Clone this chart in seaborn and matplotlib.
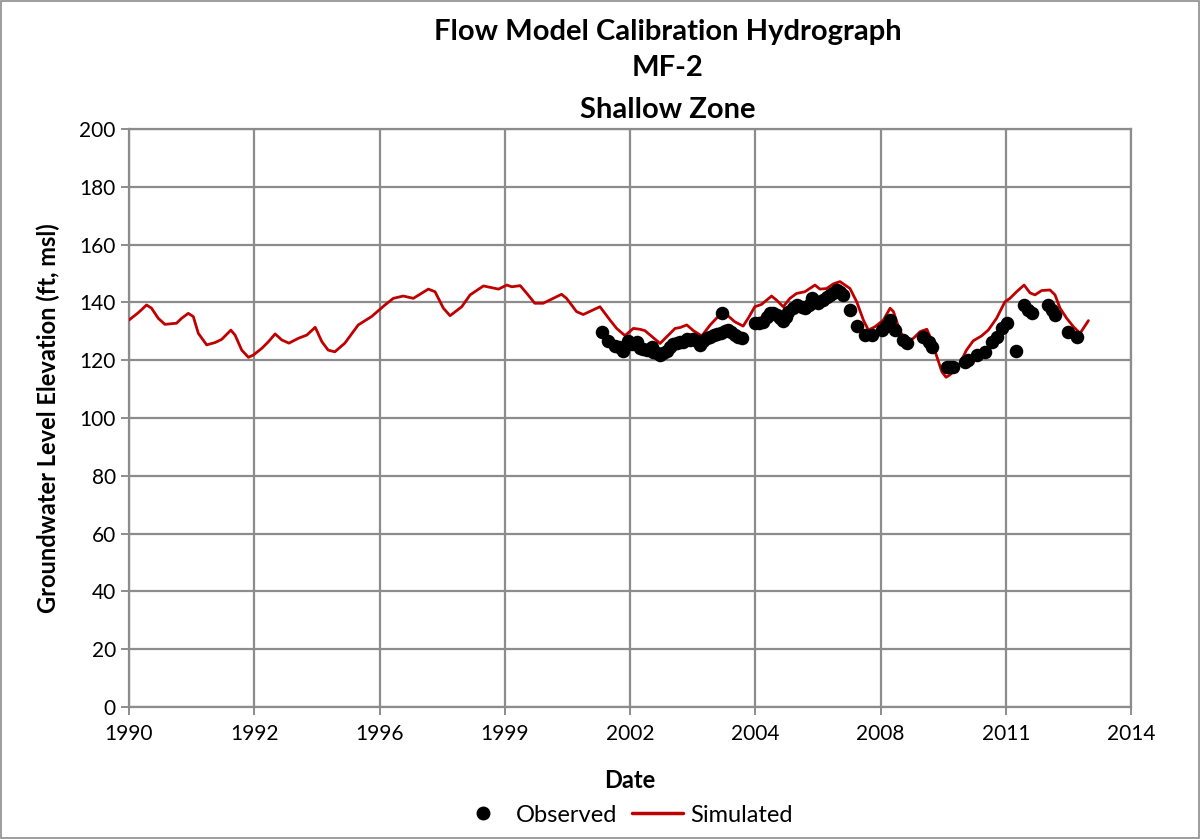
import numpy as np
import pandas as pd
import matplotlib
matplotlib.use("Agg")
import matplotlib.pyplot as plt
import seaborn as sns
from matplotlib.lines import Line2D
from matplotlib.patches import Rectangle

# Simulated heads (decimal year, ft msl)
sim_year = [1990.00, 1990.22, 1990.42, 1990.54, 1990.70, 1990.86, 1991.14, 1991.26, 1991.42, 1991.54,
            1991.66, 1991.86, 1992.06, 1992.22, 1992.44, 1992.54, 1992.70, 1992.86, 1992.98, 1993.18,
            1993.34, 1993.50, 1993.66, 1993.83, 1994.06, 1994.26, 1994.46, 1994.62, 1994.77, 1994.93,
            1995.17, 1995.49, 1995.81, 1996.13, 1996.33, 1996.57, 1996.81, 1997.17, 1997.33, 1997.53,
            1997.69, 1997.97, 1998.17, 1998.49, 1998.85, 1999.05, 1999.17, 1999.37, 1999.53, 1999.72,
            1999.92, 2000.16, 2000.36, 2000.48, 2000.72, 2000.88, 2001.28, 2001.52, 2001.68, 2001.88,
            2002.08, 2002.24, 2002.36, 2002.72, 2002.92, 2003.08, 2003.20, 2003.36, 2003.52, 2003.72,
            2003.92, 2004.11, 2004.32, 2004.51, 2004.71, 2004.83, 2004.99, 2005.15, 2005.39, 2005.51,
            2005.67, 2005.83, 2005.99, 2006.19, 2006.43, 2006.55, 2006.71, 2006.87, 2007.03, 2007.15,
            2007.27, 2007.43, 2007.59, 2007.71, 2007.87, 2008.07, 2008.23, 2008.31, 2008.47, 2008.63,
            2008.79, 2008.95, 2009.11, 2009.19, 2009.35, 2009.47, 2009.57, 2009.66, 2009.86, 2010.06,
            2010.22, 2010.42, 2010.58, 2010.78, 2010.98, 2011.10, 2011.26, 2011.44, 2011.58, 2011.70,
            2011.86, 2012.06, 2012.18, 2012.30, 2012.46, 2012.62, 2012.78, 2012.98]
sim_head = [133.9, 136.4, 139.1, 138.0, 134.5, 132.4, 132.8, 134.5, 136.2, 135.1,
            129.3, 125.3, 126.1, 127.2, 130.4, 128.7, 123.5, 121.0, 121.8, 124.1,
            126.4, 129.1, 127.0, 125.9, 127.6, 128.7, 131.4, 126.4, 123.5, 122.9,
            125.9, 132.2, 135.1, 139.1, 141.4, 142.2, 141.4, 144.6, 143.7, 138.0,
            135.4, 138.5, 142.6, 145.7, 144.6, 146.0, 145.4, 145.8, 143.1, 139.7,
            139.7, 141.4, 142.8, 141.4, 136.8, 135.8, 138.5, 133.9, 131.0, 128.5,
            131.0, 130.7, 130.2, 125.8, 128.7, 131.0, 131.3, 132.2, 130.2, 128.4,
            132.2, 135.1, 135.7, 133.3, 131.8, 134.5, 138.5, 139.3, 142.2, 140.8,
            138.5, 141.4, 143.1, 143.7, 146.0, 144.6, 144.8, 146.4, 147.2, 146.0,
            144.8, 140.2, 133.9, 130.4, 131.6, 133.9, 138.0, 136.8, 129.9, 126.4,
            127.6, 129.9, 130.7, 128.1, 121.2, 116.0, 114.1, 114.9, 117.7, 123.5,
            126.7, 128.4, 130.4, 134.5, 140.2, 141.4, 143.7, 146.0, 143.3, 142.6,
            144.1, 144.3, 142.6, 138.0, 134.5, 131.6, 129.3, 133.7]

# Observed heads
obs_year = [2001.32, 2001.48, 2001.64, 2001.74, 2001.84, 2001.96, 2002.05, 2002.16, 2002.24, 2002.32,
            2002.40, 2002.52, 2002.56, 2002.64, 2002.72, 2002.79, 2002.88, 2002.96, 2003.04, 2003.12,
            2003.20, 2003.28, 2003.36, 2003.44, 2003.52, 2003.60, 2003.68, 2003.76, 2003.84, 2003.92,
            2004.00, 2004.08, 2004.18, 2004.21, 2004.28, 2004.35, 2004.43, 2004.51, 2004.59, 2004.68,
            2004.99, 2005.09, 2005.19, 2005.28, 2005.35, 2005.42, 2005.51, 2005.59, 2005.67, 2005.74,
            2005.79, 2005.91, 2005.99, 2006.11, 2006.19, 2006.28, 2006.35, 2006.43, 2006.51, 2006.63,
            2006.71, 2006.79, 2006.87, 2006.95, 2007.03, 2007.11, 2007.27, 2007.43, 2007.63, 2007.79,
            2008.03, 2008.13, 2008.23, 2008.35, 2008.55, 2008.63, 2009.02, 2009.15, 2009.23, 2009.59,
            2009.67, 2009.74, 2010.02, 2010.10, 2010.30, 2010.50, 2010.66, 2010.78, 2010.90, 2011.02,
            2011.24, 2011.44, 2011.54, 2011.64, 2012.02, 2012.10, 2012.18, 2012.50, 2012.70]
obs_head = [129.9, 126.7, 124.9, 124.5, 123.2, 126.7, 125.5, 126.4, 124.1, 123.9,
            123.5, 124.6, 123.0, 122.4, 121.8, 122.4, 123.3, 124.6, 125.6, 125.9,
            126.2, 126.4, 127.2, 127.0, 127.4, 126.8, 125.3, 126.6, 127.6, 128.0,
            128.7, 129.0, 129.4, 136.4, 130.0, 130.4, 129.6, 128.7, 128.2, 127.8,
            132.8, 133.0, 133.3, 135.0, 136.4, 136.5, 135.7, 134.5, 133.6, 135.0,
            136.8, 138.0, 139.1, 138.5, 138.0, 139.0, 141.4, 140.5, 139.7, 140.8,
            141.8, 142.6, 143.4, 144.3, 143.5, 142.6, 137.4, 131.8, 128.7, 128.7,
            130.4, 132.0, 133.9, 130.4, 127.0, 125.9, 128.1, 126.4, 124.6, 117.7,
            117.7, 117.7, 119.5, 120.1, 121.8, 122.9, 126.4, 128.1, 131.0, 132.8,
            123.2, 139.1, 137.4, 136.2, 139.1, 137.4, 135.7, 129.9, 128.1]

# x axis: Excel date axis with odd labels
tick_pos = [1990, 1993, 1996, 1999, 2002, 2005, 2008, 2011, 2014]
tick_labels = ["1990", "1992", "1996", "1999", "2002", "2004", "2008", "2011", "2014"]
y_ticks = list(range(0, 201, 20))

sim = pd.DataFrame({"Date": sim_year, "Head": sim_head})
obs = pd.DataFrame({"Date": obs_year, "Head": obs_head})

sns.set_style("white")
plt.rcParams["font.family"] = ["Lato", "DejaVu Sans"]
plt.rcParams["text.color"] = "black"
plt.rcParams["axes.labelcolor"] = "black"

fig = plt.figure(figsize=(12, 8.39), dpi=100)
ax = fig.add_axes([129 / 1200, 1 - 707 / 839, (1131 - 129) / 1200, (707 - 129) / 839])

grid_col = "#8c8c8c"
red = "#c00000"

sns.lineplot(data=sim, x="Date", y="Head", ax=ax, color=red, linewidth=2.0, zorder=3)
sns.scatterplot(data=obs, x="Date", y="Head", ax=ax, color="black", s=95,
                edgecolor="black", linewidth=0, zorder=4)

ax.set_xlim(1990, 2014)
ax.set_ylim(0, 200)
ax.set_xticks(tick_pos)
ax.set_xticklabels(tick_labels)
ax.set_yticks(y_ticks)
ax.grid(True, color=grid_col, linewidth=1.6)
ax.set_axisbelow(True)
for side in ["left", "bottom", "top", "right"]:
    ax.spines[side].set_color(grid_col)
    ax.spines[side].set_linewidth(1.6)
ax.tick_params(axis="both", which="major", labelsize=15, colors=grid_col, labelcolor="black",
               length=6, width=1.4, direction="out", bottom=True, left=True)
ax.tick_params(axis="x", pad=6)

ax.set_xlabel("Date", fontsize=17, fontweight="bold", labelpad=18, color="black")
ax.set_ylabel("Groundwater Level Elevation (ft, msl)", fontsize=17, fontweight="bold",
              labelpad=14, color="black")

for txt, ypx in [("Flow Model Calibration Hydrograph", 32), ("MF-2", 68), ("Shallow Zone", 110)]:
    fig.text(668 / 1200, 1 - ypx / 839, txt, ha="center", va="center",
             fontsize=21, fontweight="bold", color="black")

handles = [Line2D([], [], marker="o", color="black", linestyle="none", markersize=9),
           Line2D([], [], color=red, linewidth=2.5)]
fig.legend(handles, ["Observed", "Simulated"], loc="center", bbox_to_anchor=(625 / 1200, 1 - 815 / 839),
           ncol=2, frameon=False, fontsize=17, handlelength=2.2, handletextpad=0.3, columnspacing=0.6)

fig.patches.append(Rectangle((0.001, 0.001), 0.998, 0.998, transform=fig.transFigure,
                             fill=False, edgecolor=grid_col, linewidth=1.2))

plt.savefig("out.png", dpi=100)
